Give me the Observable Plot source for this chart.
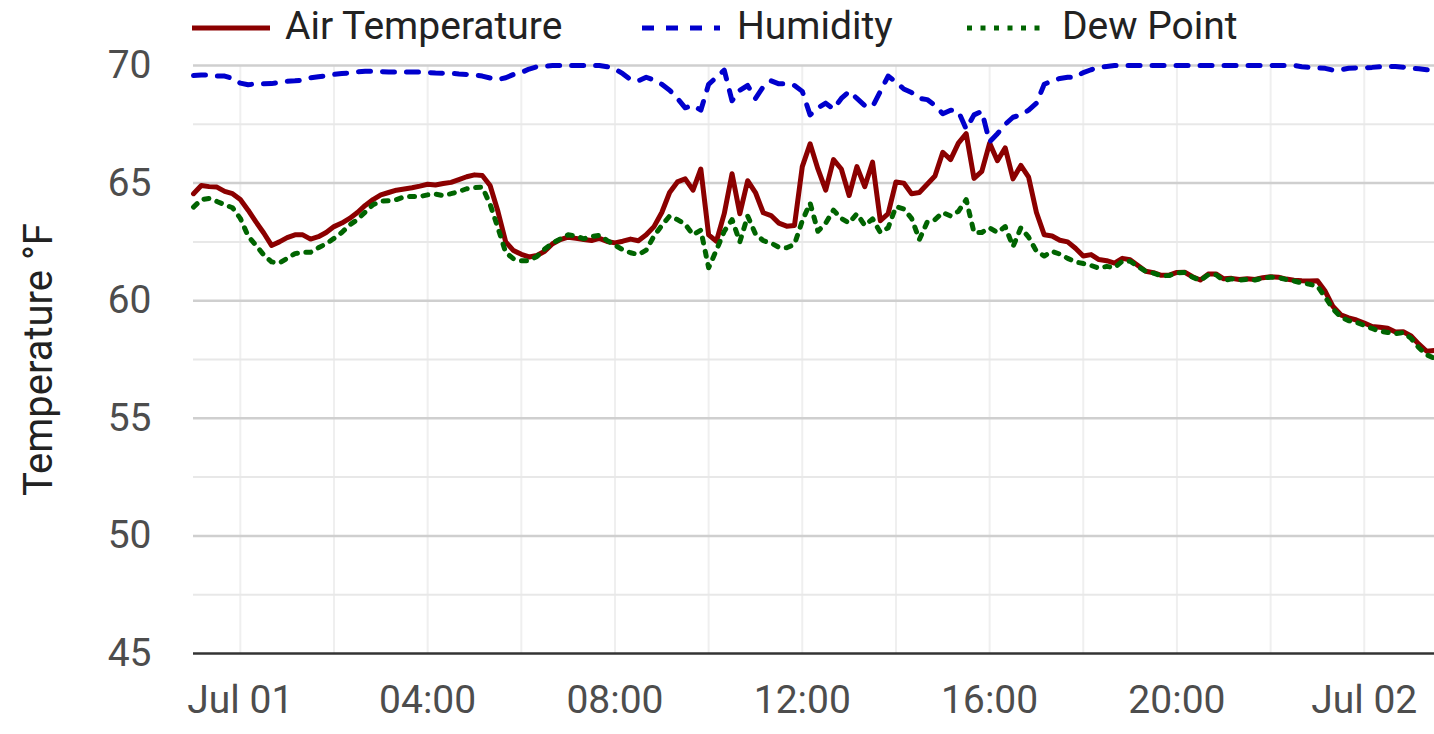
<!DOCTYPE html>
<html>
<head>
<meta charset="utf-8">
<script src="https://cdn.jsdelivr.net/npm/d3@7"></script>
<script src="https://cdn.jsdelivr.net/npm/@observablehq/plot@0.6"></script>
<style>
  html, body { margin: 0; padding: 0; background: #fff; }
  body { width: 1434px; height: 734px; overflow: hidden; font-family: Roboto, sans-serif; }
  #legend { position: relative; height: 50px; width: 1434px; }
  .item-swatch { position: absolute; top: 22px; }
  .item-text { position: absolute; top: 1px; font-size: 39px; line-height: 50px; color: #222; white-space: nowrap; }
</style>
</head>
<body>
<div id="legend"></div>
<div id="chart"></div>
<script>
// ---- data (10-minute readings starting Jun 30 23:00) ----
const seriesNames = ["Air Temperature", "Humidity", "Dew Point"];
const seriesColors = ["#8b0000", "#0000cd", "#006400"];
const seriesDash = [null, "12,12", "5,8.5"];

const airTemp = [
  64.55, 64.9, 64.85, 64.83, 64.65, 64.55, 64.3, 63.85, 63.35, 62.88,
  62.35, 62.5, 62.68, 62.8, 62.8, 62.62, 62.72, 62.9, 63.15, 63.3,
  63.5, 63.75, 64.05, 64.3, 64.5, 64.6, 64.7, 64.75, 64.8, 64.87,
  64.95, 64.92, 64.98, 65.03, 65.15, 65.27, 65.35, 65.32, 64.9, 63.8,
  62.5, 62.13, 61.97, 61.86, 61.92, 62.1, 62.42, 62.6, 62.7, 62.65,
  62.6, 62.56, 62.65, 62.52, 62.46, 62.53, 62.62, 62.55, 62.8, 63.15,
  63.75, 64.6, 65.05, 65.18, 64.7, 65.6, 62.8, 62.53, 63.7, 65.4,
  63.7, 65.1, 64.6, 63.74, 63.62, 63.3, 63.17, 63.2, 65.7, 66.67,
  65.6, 64.7, 66.0, 65.6, 64.47, 65.7, 64.85, 65.89, 63.4, 63.7,
  65.05, 65.0, 64.55, 64.6, 64.95, 65.3, 66.31, 66.0, 66.7, 67.1,
  65.2, 65.5, 66.7, 65.95, 66.5, 65.18, 65.75, 65.25, 63.75, 62.8,
  62.75, 62.57, 62.5, 62.23, 61.9, 61.96, 61.75, 61.7, 61.6, 61.8,
  61.74, 61.5, 61.25, 61.19, 61.08, 61.09, 61.2, 61.21, 61.02, 60.88,
  61.13, 61.14, 60.93, 60.95, 60.9, 60.93, 60.9, 60.98, 61.02, 61.0,
  60.92, 60.87, 60.85, 60.84, 60.85, 60.4, 59.75, 59.4, 59.27, 59.18,
  59.05, 58.9, 58.87, 58.83, 58.67, 58.68, 58.5, 58.15, 57.85, 57.88
];

const humidity = [
  69.57, 69.6, 69.6, 69.55, 69.55, 69.45, 69.25, 69.18, 69.22, 69.22,
  69.23, 69.28, 69.33, 69.35, 69.38, 69.48, 69.52, 69.56, 69.62, 69.66,
  69.68, 69.73, 69.76, 69.76, 69.74, 69.72, 69.72, 69.72, 69.72, 69.72,
  69.7, 69.68, 69.67, 69.67, 69.64, 69.62, 69.6, 69.55, 69.47, 69.4,
  69.48, 69.62, 69.7, 69.85, 69.95, 69.97, 70, 70, 70, 70,
  70, 70, 70, 69.95, 69.85, 69.65, 69.4, 69.35, 69.5, 69.38,
  69.2, 68.95, 68.6, 68.2, 68.3, 68.1, 69.2, 69.5, 69.8, 68.5,
  68.95, 69.15, 68.6, 69.1, 69.35, 69.22, 69.22, 69.15, 68.9, 67.9,
  68.2, 68.4, 68.15, 68.6, 68.9, 68.6, 68.3, 68.25, 68.9, 69.55,
  69.3, 69.0, 68.85, 68.6, 68.55, 68.3, 67.95, 68.1, 68.05, 67.3,
  67.9, 68.05, 66.75, 67.1, 67.5, 67.8, 67.9, 68.1, 68.4, 69.2,
  69.35, 69.45, 69.5, 69.5, 69.7, 69.82, 69.92, 69.96, 70, 70,
  70, 70, 70, 70, 70, 70, 70, 70, 70, 70,
  70, 70, 70, 70, 70, 70, 70, 70, 70, 70,
  70, 70, 69.95, 69.92, 69.9, 69.88, 69.8, 69.82, 69.88, 69.9,
  69.9, 69.92, 69.95, 69.96, 69.96, 69.93, 69.88, 69.86, 69.82, 69.8
];

const dewPoint = [
  63.98, 64.3, 64.35, 64.22, 64.08, 63.95, 63.5, 62.75, 62.35, 61.95,
  61.65, 61.6, 61.8, 62.0, 62.06, 62.06, 62.25, 62.42, 62.65, 62.9,
  63.22, 63.45, 63.77, 64.08, 64.23, 64.25, 64.3, 64.42, 64.43, 64.43,
  64.5, 64.53, 64.47, 64.55, 64.64, 64.76, 64.81, 64.83, 64.1, 63.1,
  62.05, 61.78, 61.7, 61.7, 61.88, 62.2, 62.45, 62.63, 62.8, 62.75,
  62.63, 62.73, 62.78, 62.56, 62.35, 62.17, 62.04, 61.96, 62.15, 62.75,
  63.2, 63.6, 63.45, 63.25, 62.8, 63.0, 61.4, 62.15, 62.95, 63.45,
  62.5, 63.6, 62.84, 62.55, 62.45, 62.27, 62.25, 62.4, 63.4, 64.15,
  62.95, 63.3, 63.85, 63.5, 63.3, 63.7, 63.2, 63.48, 62.9, 63.1,
  64.0, 63.9, 63.5, 62.6, 63.34, 63.45, 63.75, 63.6, 63.8, 64.3,
  62.9, 62.9, 63.1, 62.9, 63.15, 62.3, 63.1, 62.7, 62.1, 61.9,
  62.1, 61.98, 61.8, 61.65, 61.58, 61.5, 61.38, 61.46, 61.4, 61.68,
  61.68, 61.45, 61.25, 61.17, 61.06, 61.07, 61.18, 61.2, 61.0, 60.86,
  61.1, 61.1, 60.86, 60.93, 60.88, 60.9, 60.88, 60.96, 61.0, 60.98,
  60.9, 60.84, 60.75, 60.7, 60.62, 60.15, 59.65, 59.3, 59.15, 59.08,
  58.95, 58.82, 58.7, 58.65, 58.6, 58.64, 58.4, 58.0, 57.7, 57.55
];

const yTicks = [45, 50, 55, 60, 65, 70];
const yMinor = [47.5, 52.5, 57.5, 62.5, 67.5];

// ---- build table ----
const startTime = Date.UTC(2023, 5, 30, 23, 0);
const stepMs = 10 * 60 * 1000;
const seriesValues = [airTemp, humidity, dewPoint];
const rows = [];
seriesValues.forEach((vals, s) => {
  vals.forEach((v, i) => rows.push({series: seriesNames[s], time: new Date(startTime + i * stepMs), value: v}));
});
const xDomain = [new Date(startTime), new Date(startTime + (airTemp.length - 1) * stepMs)];
const xTicks = d3.utcHour.every(4).range(new Date(Date.UTC(2023, 6, 1, 0)), new Date(Date.UTC(2023, 6, 2, 1)));
const xGrid = d3.utcHour.every(2).range(new Date(Date.UTC(2023, 6, 1, 0)), new Date(Date.UTC(2023, 6, 2, 1)));
const fmtDay = d3.utcFormat("%b %d");
const fmtHour = d3.utcFormat("%H:%M");

// ---- legend ----
const legendPos = [[192, 285], [642, 737], [967, 1062]];
const legend = document.getElementById("legend");
seriesNames.forEach((name, s) => {
  const sw = document.createElementNS("http://www.w3.org/2000/svg", "svg");
  sw.setAttribute("width", 78); sw.setAttribute("height", 12);
  sw.setAttribute("class", "item-swatch");
  sw.style.left = legendPos[s][0] + "px";
  const ln = document.createElementNS("http://www.w3.org/2000/svg", "line");
  ln.setAttribute("x1", 0); ln.setAttribute("x2", 78); ln.setAttribute("y1", 6); ln.setAttribute("y2", 6);
  ln.setAttribute("stroke", seriesColors[s]); ln.setAttribute("stroke-width", 5);
  if (seriesDash[s]) ln.setAttribute("stroke-dasharray", seriesDash[s]);
  sw.appendChild(ln);
  legend.appendChild(sw);
  const t = document.createElement("div");
  t.className = "item-text";
  t.style.left = legendPos[s][1] + "px";
  t.textContent = name;
  legend.appendChild(t);
});

// ---- chart ----
const lineMarks = seriesNames.map((name, s) =>
  Plot.lineY(rows.filter(d => d.series === name), {
    x: "time", y: "value",
    stroke: seriesColors[s], strokeWidth: 5,
    strokeDasharray: seriesDash[s] || undefined
  })
);

const chart = Plot.plot({
  width: 1434,
  height: 684,
  marginLeft: 193,
  marginRight: 0,
  marginTop: 15,
  marginBottom: 81,
  style: {fontFamily: "Roboto, sans-serif", fontSize: "39px", color: "#4d4d4d", background: "#fff", overflow: "visible"},
  x: {type: "utc", domain: xDomain},
  y: {domain: [45, 70]},
  marks: [
    Plot.ruleX(xGrid, {stroke: "#efefef", strokeWidth: 2}),
    Plot.ruleY(yMinor, {stroke: "#e8e8e8", strokeWidth: 2}),
    Plot.ruleY(yTicks.filter(v => v > 45), {stroke: "#cfcfcf", strokeWidth: 2.5}),
    Plot.axisY({ticks: yTicks, tickSize: 0, tickPadding: 42, fill: "#4d4d4d", fontSize: 39,
      label: null}),
    Plot.axisY({ticks: [], tickSize: 0, fill: "#222", fontSize: 40,
      label: "Temperature °F", labelAnchor: "center", labelArrow: "none", labelOffset: 170}),
    Plot.axisX({ticks: xTicks, tickSize: 0, tickPadding: 32, fill: "#4d4d4d", label: null, fontSize: 39,
      tickFormat: d => d.getUTCHours() === 0 ? fmtDay(d) : fmtHour(d)}),
    ...lineMarks,
    Plot.ruleY([45], {stroke: "#333", strokeWidth: 2.5})
  ]
});
document.getElementById("chart").appendChild(chart);
</script>
</body>
</html>
